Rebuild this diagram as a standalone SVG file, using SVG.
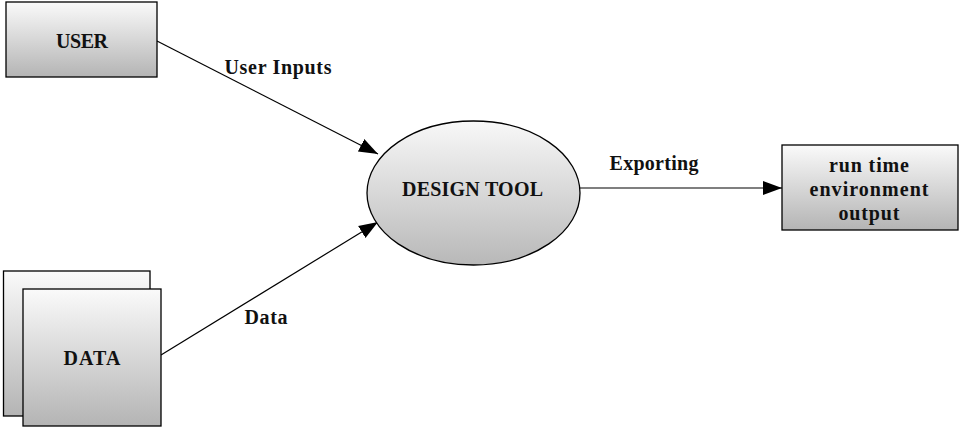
<svg xmlns="http://www.w3.org/2000/svg" width="959" height="427" viewBox="0 0 959 427">
<style>
.box{stroke:#000;stroke-width:1.3;fill:url(#g)}
.t{font-family:"Liberation Serif","Times New Roman",serif;font-weight:bold;font-size:20px;fill:#111;text-anchor:middle}
.e{stroke:#000;stroke-width:1.2;fill:none;marker-end:url(#ah)}
</style>
<defs>
<linearGradient id="g" x1="0" y1="0" x2="0" y2="1">
<stop offset="0" stop-color="#fafafa"/>
<stop offset="1" stop-color="#b4b4b4"/>
</linearGradient>
<linearGradient id="ge" x1="0" y1="0" x2="0" y2="1">
<stop offset="0" stop-color="#f8f8f8"/>
<stop offset="1" stop-color="#b8b8b8"/>
</linearGradient>
<marker id="ah" markerUnits="userSpaceOnUse" markerWidth="20" markerHeight="16" refX="19" refY="7" orient="auto" viewBox="0 0 20 14">
<path d="M0,0 L19,7 L0,14 Z" fill="#000"/>
</marker>
</defs>
<rect width="959" height="427" fill="#fff"/>
<g id="connectors">
<line class="e" x1="157" y1="41" x2="378" y2="154"/>
<line class="e" x1="161" y1="355" x2="378" y2="222"/>
<line class="e" x1="580" y1="188" x2="782" y2="188"/>
<text class="t" x="278" y="74" textLength="107">User Inputs</text>
<text class="t" x="266" y="324" textLength="43">Data</text>
<text class="t" x="654" y="170" textLength="89">Exporting</text>
</g>
<g id="user">
<rect class="box" x="6" y="2" width="151" height="75"/>
<text class="t" x="82" y="48" textLength="52">USER</text>
</g>
<g id="data">
<rect class="box" x="3.5" y="271" width="146.5" height="145"/>
<rect class="box" x="23" y="289" width="138" height="137"/>
<text class="t" x="92" y="365" textLength="57">DATA</text>
</g>
<g id="design-tool">
<ellipse cx="473.5" cy="193" rx="106.5" ry="72" fill="url(#ge)" stroke="#000" stroke-width="1.3"/>
<text class="t" x="472.5" y="196" textLength="141">DESIGN TOOL</text>
</g>
<g id="runtime">
<rect class="box" x="782" y="145" width="176" height="85"/>
<text class="t" x="869" y="172" textLength="80">run time</text>
<text class="t" x="869" y="196" textLength="119">environment</text>
<text class="t" x="869" y="220" textLength="61">output</text>
</g>
</svg>
